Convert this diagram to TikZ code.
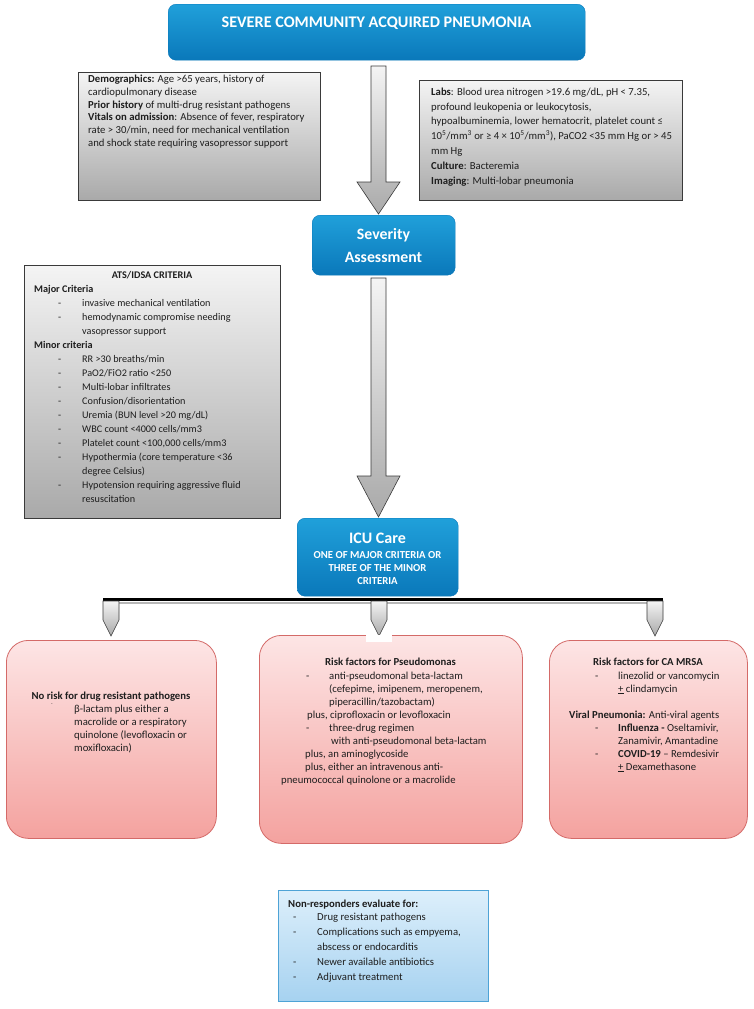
\documentclass[tikz,border=0pt]{standalone}
\usepackage{fontspec}
\setmainfont{Carlito}
\usetikzlibrary{calc}
\definecolor{blueT}{HTML}{20A0DA}
\definecolor{blueB}{HTML}{0A78BA}
\definecolor{grayT}{HTML}{F4F4F4}
\definecolor{grayB}{HTML}{A9A9A9}
\definecolor{grayL}{HTML}{3A3A3A}
\definecolor{pinkT}{HTML}{FDE5E5}
\definecolor{pinkB}{HTML}{F4A29F}
\definecolor{pinkL}{HTML}{D46A68}
\definecolor{lbT}{HTML}{DDEFFB}
\definecolor{lbB}{HTML}{A6D2F0}
\definecolor{lbL}{HTML}{4EA3D6}
\definecolor{txtc}{HTML}{1E1E1E}
\newcommand\dsh{\makebox[23pt][l]{-}}
\newcommand\adsh{\makebox[24pt][l]{-}}
\tikzset{
 bluebox/.style={rounded corners=8pt, top color=blueT, bottom color=blueB, draw=blueB, line width=0.4pt, anchor=north west, inner sep=0pt},
 graybox/.style={top color=grayT, bottom color=grayB, draw=grayL, line width=1pt, anchor=north west, inner sep=0pt},
 pinkbox/.style={rounded corners=22pt, top color=pinkT, bottom color=pinkB, draw=pinkL, line width=0.8pt, anchor=north west, inner sep=0pt},
 lbbox/.style={top color=lbT, bottom color=lbB, draw=lbL, line width=1pt, anchor=north west, inner sep=0pt},
 bodytext/.style={inner sep=0pt, anchor=north west, align=left, text=txtc, font=\fontsize{10.7}{12.9}\selectfont},
 headtext/.style={inner sep=0pt, anchor=north, align=center, text=txtc, font=\bfseries\fontsize{10.7}{12.9}\selectfont},
 whitetext/.style={inner sep=0pt, align=center, text=white},
 arrowshape/.style={top color=grayT, bottom color=grayB, draw=grayL, line width=0.6pt},
}
\newcommand\blockarrow[4]{\draw[arrowshape] (#1-7.5,#2) -- (#1+7.5,#2) -- (#1+7.5,#3) -- (#1+21.5,#3) -- (#1,#4) -- (#1-21.5,#3) -- (#1-7.5,#3) -- cycle;}
\newcommand\smallarrow[1]{\draw[arrowshape] (#1-8,601) -- (#1+8,601) -- (#1+8,620) -- (#1,636) -- (#1-8,620) -- cycle;}
\begin{document}
\begin{tikzpicture}[x=1pt,y=-1pt]
\useasboundingbox[fill=white] (0,0) rectangle (753,1009);

% big arrows (behind boxes)
\blockarrow{378.5}{66}{182}{214}
\blockarrow{378.5}{278}{476}{517}

% title
\node[bluebox, minimum width=417pt, minimum height=56pt] (title) at (168,4) {};
\node[whitetext, font=\bfseries\fontsize{16.2}{18}\selectfont] (titletext) at (376.5,23) {SEVERE COMMUNITY ACQUIRED PNEUMONIA};

% info boxes
\node[graybox, minimum width=242pt, minimum height=128pt] (demo) at (78,72) {};
\node[bodytext] (demotext) at (88,74.5) {\textbf{Demographics:} Age >65 years, history of\\
cardiopulmonary disease\\
\textbf{Prior history} of multi-drug resistant pathogens\\
\textbf{Vitals on admission}: Absence of fever, respiratory\\
rate > 30/min, need for mechanical ventilation\\
and shock state requiring vasopressor support};

\node[graybox, minimum width=263pt, minimum height=120pt] (labs) at (419,80) {};
\node[bodytext, font=\fontsize{10.7}{14.8}\selectfont] (labstext) at (431,87.5) {\textbf{Labs}: Blood urea nitrogen >19.6 mg/dL, pH < 7.35,\\
profound leukopenia or leukocytosis,\\
hypoalbuminemia, lower hematocrit, platelet count ≤\\
10\textsuperscript{5}/mm\textsuperscript{3} or ≥ 4 × 10\textsuperscript{5}/mm\textsuperscript{3}), PaCO2 <35 mm Hg or > 45\\
mm Hg\\
\textbf{Culture}: Bacteremia\\
\textbf{Imaging}: Multi-lobar pneumonia};

% severity
\node[bluebox, minimum width=143pt, minimum height=60pt] (sev) at (312,215) {};
\node[whitetext, font=\bfseries\fontsize{15.8}{23}\selectfont] (sevtext) at (383.5,246) {Severity\\Assessment};

% ATS box
\node[graybox, minimum width=256pt, minimum height=253pt] (ats) at (24,265) {};
\node[headtext, font=\bfseries\fontsize{10.2}{14}\selectfont] (atshead) at (152,270.8) {ATS/IDSA CRITERIA};
\node[bodytext, font=\fontsize{10.2}{14}\selectfont] (atstext) at (34,284.8) {\textbf{Major Criteria}\\
\hspace*{24pt}\adsh invasive mechanical ventilation\\
\hspace*{24pt}\adsh hemodynamic compromise needing\\
\hspace*{48pt}vasopressor support\\
\textbf{Minor criteria}\\
\hspace*{24pt}\adsh RR >30 breaths/min\\
\hspace*{24pt}\adsh PaO2/FiO2 ratio <250\\
\hspace*{24pt}\adsh Multi-lobar infiltrates\\
\hspace*{24pt}\adsh Confusion/disorientation\\
\hspace*{24pt}\adsh Uremia (BUN level >20 mg/dL)\\
\hspace*{24pt}\adsh WBC count <4000 cells/mm3\\
\hspace*{24pt}\adsh Platelet count <100,000 cells/mm3\\
\hspace*{24pt}\adsh Hypothermia (core temperature <36\\
\hspace*{48pt}degree Celsius)\\
\hspace*{24pt}\adsh Hypotension requiring aggressive fluid\\
\hspace*{48pt}resuscitation};

% ICU box
\node[bluebox, minimum width=161pt, minimum height=78pt] (icu) at (297,518) {};
\node[whitetext, font=\bfseries\fontsize{16}{18}\selectfont] (icuhead) at (377.5,538) {ICU Care};
\node[whitetext, font=\bfseries\fontsize{10.7}{13}\selectfont] (icusub) at (377.5,568) {ONE OF MAJOR CRITERIA OR\\THREE OF THE MINOR\\CRITERIA};

% bar and small arrows
\coordinate (barL) at (103,599.5);
\coordinate (barR) at (663,599.5);
\coordinate (shL) at (119,602.8);
\coordinate (shR) at (647,602.8);
\draw[line width=1.5pt, color=black!28] (shL) -- (shR);
\draw[line width=3pt] (barL) -- (barR);
\smallarrow{111}
\smallarrow{379}
\smallarrow{655}

% pink boxes
\node[pinkbox, minimum width=210pt, minimum height=198pt] (pl) at (6,640) {};
\node[pinkbox, minimum width=263pt, minimum height=208pt] (pm) at (259,635) {};
\node[pinkbox, minimum width=198pt, minimum height=198pt] (pr) at (549,640) {};
\node[fill=white, minimum width=26pt, minimum height=7pt, inner sep=0pt, anchor=north west] (patch) at (366,635) {};

\node[headtext] (plhead) at (111,691.5) {No risk for drug resistant pathogens};
\node[text=txtc, inner sep=0pt, font=\fontsize{5}{5}\selectfont] (pldash) at (52,705) {-};
\node[bodytext, font=\fontsize{10.7}{13.1}\selectfont] (pltext) at (74,704.5) {β-lactam plus either a\\
macrolide or a respiratory\\
quinolone (levofloxacin or\\
moxifloxacin)};

\node[headtext] (pmhead) at (390.5,657.5) {Risk factors for Pseudomonas};
\node[bodytext, font=\fontsize{10.7}{13.1}\selectfont] (pmtext) at (281,671.5) {\hspace*{25pt}\dsh anti-pseudomonal beta-lactam\\
\hspace*{48pt}(cefepime, imipenem, meropenem,\\
\hspace*{48pt}piperacillin/tazobactam)\\
\hspace*{26pt}plus, ciprofloxacin or levofloxacin\\
\hspace*{25pt}\dsh three-drug regimen\\
\hspace*{50pt}with anti-pseudomonal beta-lactam\\
\hspace*{24pt}plus, an aminoglycoside\\
\hspace*{24pt}plus, either an intravenous anti-\\
pneumococcal quinolone or a macrolide};

\node[headtext] (prhead) at (648,657.5) {Risk factors for CA MRSA};
\node[bodytext, font=\fontsize{10.7}{13}\selectfont] (prtext) at (569,671.5) {\hspace*{26pt}\dsh linezolid or vancomycin\\
\hspace*{49pt}\underline{+} clindamycin\\
\mbox{}\\
\textbf{Viral Pneumonia:} Anti-viral agents\\
\hspace*{26pt}\dsh \textbf{Influenza -} Oseltamivir,\\
\hspace*{49pt}Zanamivir, Amantadine\\
\hspace*{26pt}\dsh \textbf{COVID-19} – Remdesivir\\
\hspace*{49pt}\underline{+} Dexamethasone};

% bottom box
\node[lbbox, minimum width=210pt, minimum height=111pt] (nonresp) at (278,890) {};
\node[bodytext, font=\bfseries\fontsize{10.7}{13}\selectfont] (nrhead) at (288,899.5) {Non-responders evaluate for:};
\node[bodytext, font=\fontsize{10.7}{15}\selectfont] (nrtext) at (288,912.5) {\hspace*{5pt}\adsh Drug resistant pathogens\\
\hspace*{5pt}\adsh Complications such as empyema,\\
\hspace*{29pt}abscess or endocarditis\\
\hspace*{5pt}\adsh Newer available antibiotics\\
\hspace*{5pt}\adsh Adjuvant treatment};
\end{tikzpicture}
\end{document}
